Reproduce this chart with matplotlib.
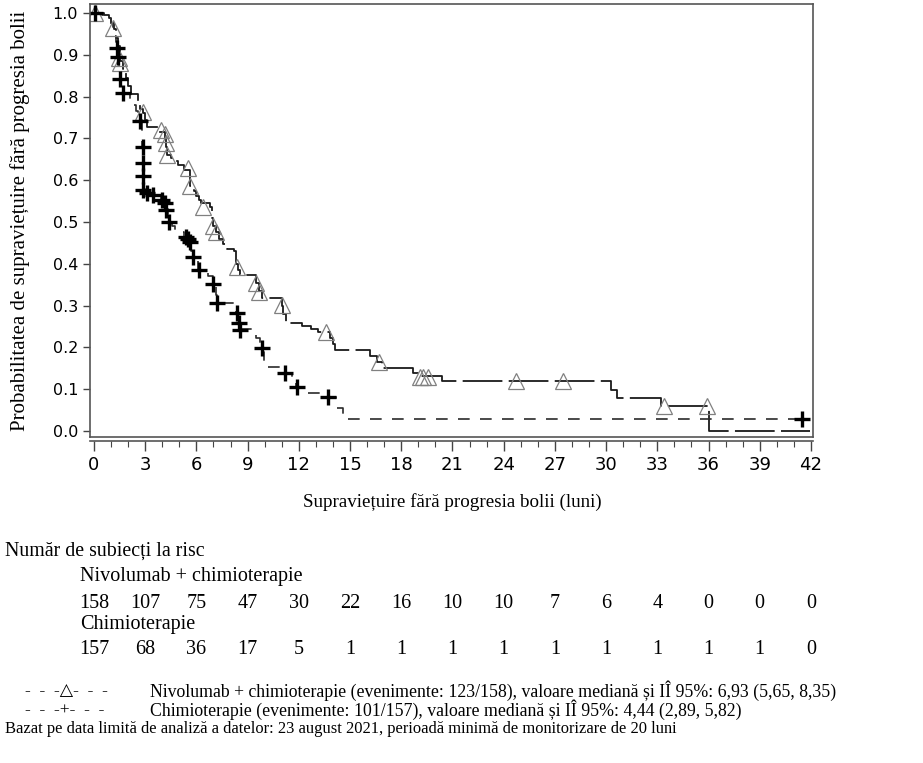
import numpy as np
import matplotlib
matplotlib.use("Agg")
from matplotlib import pyplot as plt, ticker, transforms

# Kaplan-Meier steps: (time of drop, level after drop)
nivo_t = [0, 0.6, 0.9, 1.0, 1.15, 1.3, 1.4, 1.5, 1.55, 1.7, 1.85, 2.0, 2.15, 2.6, 2.7,
          2.85, 3.0, 3.1, 3.8, 4.15, 4.25, 4.3, 4.5, 4.7, 4.9, 5.3, 5.6, 5.65, 5.85,
          6.0, 6.15, 6.3, 6.8, 6.9, 7.0, 7.15, 7.35, 7.55, 7.8, 8.2, 8.35, 8.45, 8.55,
          9.5, 9.65, 9.85, 11.0, 11.1, 11.25, 12.2, 12.7, 13.1, 13.8, 14.0, 14.15,
          16.2, 16.6, 16.85, 18.7, 19.0, 20.4, 30.3, 30.65, 33.2, 36.0]
nivo_s = [1.0, 0.994, 0.987, 0.975, 0.962, 0.94, 0.92, 0.90, 0.885, 0.865, 0.845, 0.825,
          0.805, 0.79, 0.77, 0.76, 0.745, 0.727, 0.715, 0.70, 0.68, 0.66, 0.653, 0.645,
          0.637, 0.625, 0.605, 0.585, 0.575, 0.562, 0.552, 0.545, 0.535, 0.51, 0.49,
          0.475, 0.46, 0.447, 0.435, 0.43, 0.40, 0.385, 0.373, 0.355, 0.335, 0.318,
          0.30, 0.28, 0.258, 0.25, 0.243, 0.237, 0.222, 0.207, 0.194, 0.18, 0.165,
          0.15, 0.138, 0.131, 0.119, 0.098, 0.079, 0.06, 0.0]
nivo_end = 41.95

chemo_t = [0, 0.5, 0.8, 1.0, 1.1, 1.2, 1.3, 1.35, 1.4, 1.45, 1.5, 1.6, 1.7, 2.1, 2.3,
           2.45, 2.6, 2.8, 2.83, 2.85, 2.87, 2.9, 3.0, 3.3, 3.9, 4.1, 4.2, 4.35, 4.55,
           4.75, 5.3, 5.55, 5.7, 5.8, 6.1, 6.7, 6.95, 7.15, 7.2, 8.35, 8.45, 8.55, 9.3,
           9.5, 9.7, 9.85, 9.95, 10.1, 11.1, 11.6, 11.85, 12.5, 13.5, 14.2, 14.6]
chemo_s = [1.0, 0.994, 0.987, 0.975, 0.96, 0.945, 0.93, 0.916, 0.895, 0.87, 0.842,
           0.825, 0.808, 0.795, 0.78, 0.765, 0.745, 0.72, 0.68, 0.64, 0.61, 0.58, 0.572,
           0.565, 0.555, 0.545, 0.53, 0.505, 0.49, 0.476, 0.464, 0.452, 0.43, 0.416,
           0.385, 0.37, 0.352, 0.325, 0.306, 0.282, 0.258, 0.244, 0.232, 0.222, 0.205,
           0.19, 0.165, 0.153, 0.139, 0.12, 0.105, 0.091, 0.081, 0.055, 0.029]
chemo_end = 41.5

# censored observations
nivo_cens_t = [0.05, 1.1, 1.45, 1.55, 2.9, 3.9, 4.15, 4.25, 4.3, 5.5, 5.65, 6.4, 6.95,
               7.15, 8.4, 9.5, 9.65, 11.0, 13.6, 16.7, 19.1, 19.3, 19.55, 24.7, 27.5,
               33.4, 35.9]
nivo_cens_s = [1.0, 0.964, 0.892, 0.88, 0.763, 0.72, 0.71, 0.69, 0.66, 0.63, 0.587,
               0.536, 0.49, 0.476, 0.392, 0.354, 0.333, 0.301, 0.237, 0.165, 0.129,
               0.129, 0.129, 0.119, 0.119, 0.06, 0.06]
chemo_cens_t = [0.05, 1.35, 1.4, 1.5, 1.7, 2.7, 2.85, 2.85, 2.87, 2.9, 3.1, 3.45, 4.0,
                4.15, 4.2, 4.4, 5.4, 5.5, 5.6, 5.8, 6.15, 7.0, 7.2, 8.4, 8.5, 8.55, 9.85,
                11.2, 11.9, 13.7, 41.5]
chemo_cens_s = [1.0, 0.916, 0.895, 0.842, 0.808, 0.742, 0.68, 0.64, 0.61, 0.577, 0.569,
                0.565, 0.553, 0.545, 0.529, 0.50, 0.464, 0.46, 0.452, 0.416, 0.385,
                0.352, 0.306, 0.282, 0.258, 0.242, 0.199, 0.139, 0.105, 0.081, 0.029]

risk_times = [0, 3, 6, 9, 12, 15, 18, 21, 24, 27, 30, 33, 36, 39, 42]
risk_nivo = [158, 107, 75, 47, 30, 22, 16, 10, 10, 7, 6, 4, 0, 0, 0]
risk_chemo = [157, 68, 36, 17, 5, 1, 1, 1, 1, 1, 1, 1, 1, 1, 0]

serif = ['Liberation Serif', 'DejaVu Serif']
W, H = 923, 763

fig = plt.figure(figsize=(W / 100, H / 100), dpi=100)
ax = fig.add_axes([90 / W, 1 - 437 / H, (813 - 90) / W, (437 - 4) / H])

ax.step(nivo_t + [nivo_end], nivo_s + [nivo_s[-1]], where='post', color='#1a1a1a',
        lw=1.3, linestyle=(0, (22, 3.5)))
ax.step(chemo_t + [chemo_end], chemo_s + [chemo_s[-1]], where='post', color='#2a2a2a',
        lw=1.2, linestyle=(0, (7, 6.2)))
ax.plot(nivo_cens_t, nivo_cens_s, linestyle='none', marker='^', markersize=11,
        markerfacecolor='none', markeredgecolor='#808080', markeredgewidth=0.9)
ax.plot(chemo_cens_t, chemo_cens_s, linestyle='none', marker='+', markersize=11,
        color='black', markeredgewidth=2.4)

ax.set_xlim(-0.23, 42.12)
ax.set_ylim(-0.0144, 1.0215)
ax.xaxis.set_major_locator(ticker.MultipleLocator(3))
ax.xaxis.set_minor_locator(ticker.MultipleLocator(1))
ax.yaxis.set_major_locator(ticker.MultipleLocator(0.1))
ax.yaxis.set_major_formatter(ticker.FormatStrFormatter('%.1f'))
ax.spines['bottom'].set_position(('outward', 3))
ax.plot([0, 1], [0, 0], transform=ax.transAxes, color='#555555', lw=1.2, clip_on=False)
for s in ax.spines.values():
    s.set_color('#555555')
    s.set_linewidth(1.2)
ax.tick_params(axis='x', which='major', length=7, width=1, color='#444444',
               labelsize=13, pad=4)
ax.tick_params(axis='x', which='minor', length=4, width=0.8, color='#444444')
ax.tick_params(axis='y', length=5, width=1, color='#444444', labelsize=11.5)

ax.set_ylabel('Probabilitatea de supraviețuire fără progresia bolii', family=serif,
              fontsize=15)
ax.yaxis.set_label_coords(-0.083, 0.5)
fig.text(452 / W, 1 - 502 / H, 'Supraviețuire fără progresia bolii (luni)',
         family=serif, fontsize=13.7, ha='center', va='center')

# number at risk table
fig.text(5 / W, 1 - 551 / H, 'Număr de subiecți la risc', family=serif, fontsize=14.3,
         va='center')
fig.text(80 / W, 1 - 576 / H, 'Nivolumab + chimioterapie', family=serif, fontsize=14.5,
         va='center')
fig.text(80 / W, 1 - 624 / H, 'Chimioterapie', family=serif, fontsize=14.5, va='center')
trans = transforms.blended_transform_factory(ax.transData, fig.transFigure)
for t, n1, n2 in zip(risk_times, risk_nivo, risk_chemo):
    ax.text(t, 1 - 603 / H, str(n1), transform=trans, family=serif, fontsize=14.5,
            ha='center', va='center')
    ax.text(t, 1 - 650 / H, str(n2), transform=trans, family=serif, fontsize=14.5,
            ha='center', va='center')

# legend lines
fig.text(25 / W, 1 - 691 / H, '-  -  -\u25b3-  -  -', family=serif + ['DejaVu Sans'],
         fontsize=12.5, va='center')
fig.text(25 / W, 1 - 710 / H, '-  -  -+-  -  -', family=serif, fontsize=12.5,
         va='center')
fig.text(150 / W, 1 - 691 / H,
         'Nivolumab + chimioterapie (evenimente: 123/158), valoare mediană și IÎ 95%: '
         '6,93 (5,65, 8,35)', family=serif, fontsize=12.8, va='center')
fig.text(150 / W, 1 - 710 / H,
         'Chimioterapie (evenimente: 101/157), valoare mediană și IÎ 95%: 4,44 (2,89, 5,82)',
         family=serif, fontsize=12.8, va='center')
fig.text(5 / W, 1 - 729 / H,
         'Bazat pe data limită de analiză a datelor: 23 august 2021, perioadă minimă de '
         'monitorizare de 20 luni', family=serif, fontsize=11.9, va='center')

fig.savefig('out.png', dpi=100)
